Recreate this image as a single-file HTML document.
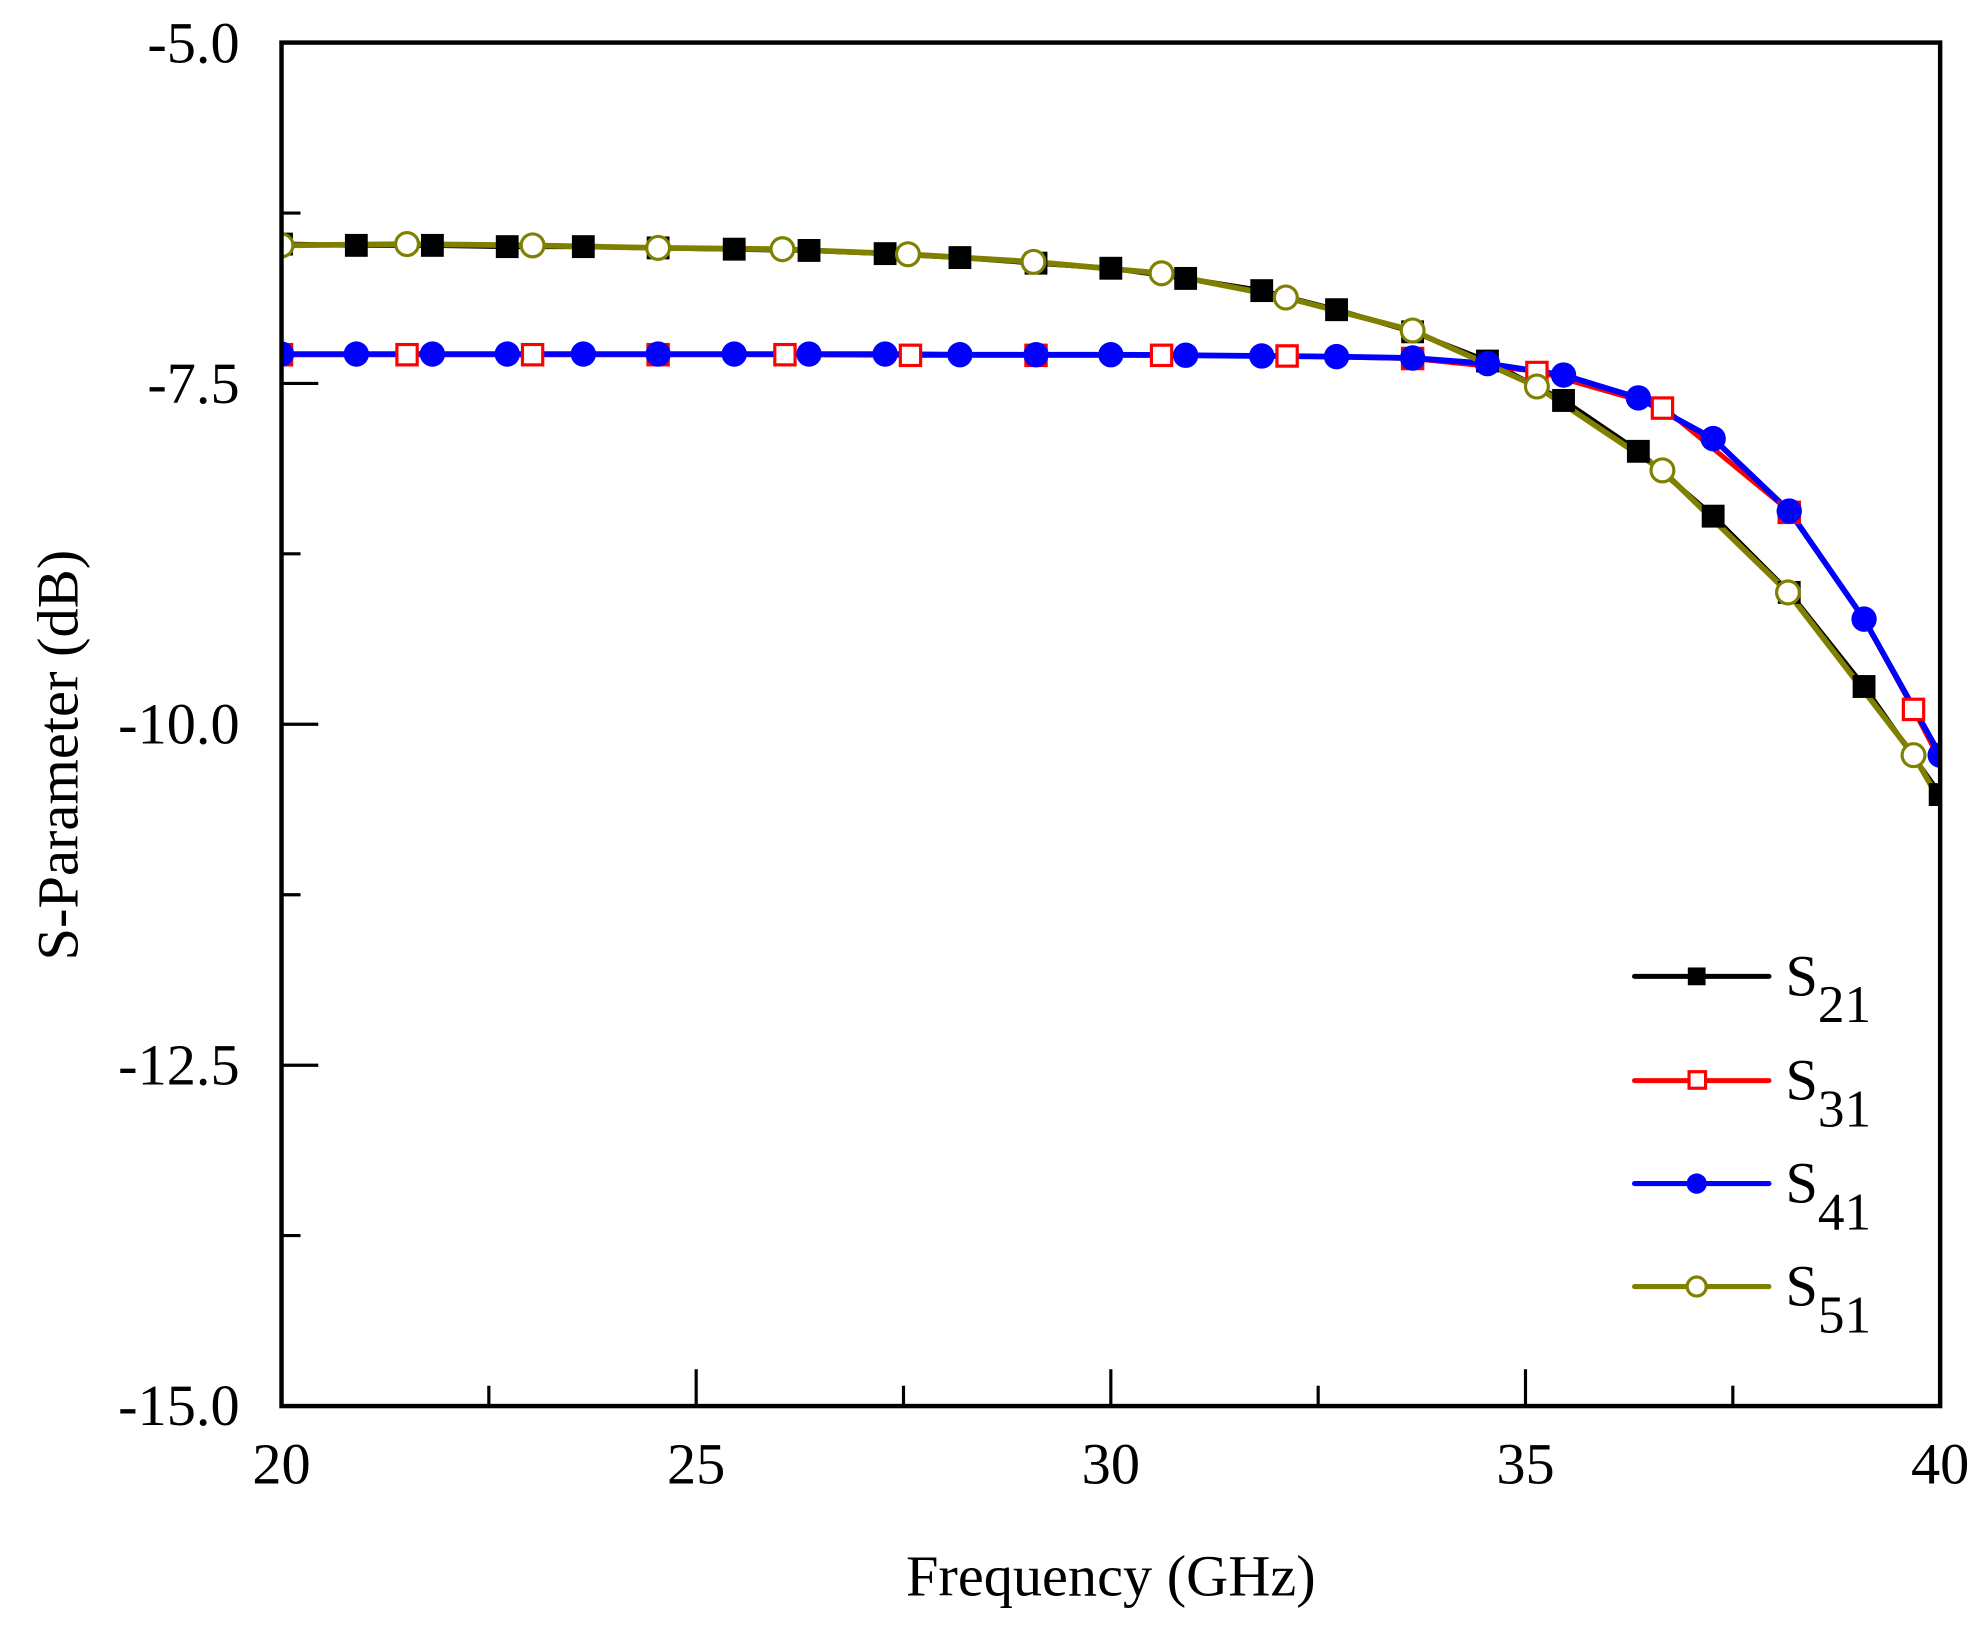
<!DOCTYPE html>
<html><head><meta charset="utf-8"><style>html,body{margin:0;padding:0;background:#fff}svg{display:block}</style></head>
<body>
<svg width="1982" height="1626" viewBox="0 0 1563 1279" preserveAspectRatio="none" xmlns="http://www.w3.org/2000/svg" font-family="'Liberation Serif', serif">
<defs><clipPath id="c"><rect x="222" y="33.5" width="1308" height="1072.5"/></clipPath></defs>
<g clip-path="url(#c)">
<polyline fill="none" stroke="#000" stroke-width="4" points="222,192 281,193 341,193 400,194 460,194 519,195 579,196 638,197 698,199.5 757,202.6 817,207 876,211 935,219 995,228.6 1054,243.6 1114,261 1173,284 1233,315 1292,355 1351,406 1411,466 1470,540 1530,625"/>
<polyline fill="none" stroke="#f00" stroke-width="4" stroke-linejoin="round" points="222,279 321,279 420,279 519,279 619,279 718,279.5 817,279.5 916,279.5 1015,280 1114,282 1212,292 1311,320 1411,402 1470,487 1509,558 1530,598"/>
<polyline fill="none" stroke="#00f" stroke-width="4.5" stroke-linejoin="round" points="222,278.5 281,278.5 341,278.5 400,278.5 460,278.5 519,278.5 579,278.5 638,278.5 698,278.5 757,279 817,279 876,279 935,279.4 995,280 1054,280.5 1114,281.6 1173,286 1233,295 1292,313 1351,345 1411,402 1470,487 1530,594"/>
<polyline fill="none" stroke="#808000" stroke-width="4.5" stroke-linejoin="round" points="222,193 321,192 420,193 519,195 617,196 716,200 815,206 916,215 1014,234 1114,260 1212,304 1311,370 1410,466 1509,594 1530,630"/>
<g fill="#000">
<rect x="213" y="183" width="18" height="18"/><rect x="272" y="184" width="18" height="18"/><rect x="332" y="184" width="18" height="18"/><rect x="391" y="185" width="18" height="18"/><rect x="451" y="185" width="18" height="18"/><rect x="510" y="186" width="18" height="18"/><rect x="570" y="187" width="18" height="18"/><rect x="629" y="188" width="18" height="18"/><rect x="689" y="190.5" width="18" height="18"/><rect x="748" y="193.6" width="18" height="18"/><rect x="808" y="198" width="18" height="18"/><rect x="867" y="202" width="18" height="18"/><rect x="926" y="210" width="18" height="18"/><rect x="986" y="219.6" width="18" height="18"/><rect x="1045" y="234.6" width="18" height="18"/><rect x="1105" y="252" width="18" height="18"/><rect x="1164" y="275" width="18" height="18"/><rect x="1224" y="306" width="18" height="18"/><rect x="1283" y="346" width="18" height="18"/><rect x="1342" y="397" width="18" height="18"/><rect x="1402" y="457" width="18" height="18"/><rect x="1461" y="531" width="18" height="18"/><rect x="1521" y="616" width="18" height="18"/>
</g>
<g fill="#fff" stroke="#f00" stroke-width="2.5">
<rect x="214" y="271" width="16" height="16"/><rect x="313" y="271" width="16" height="16"/><rect x="412" y="271" width="16" height="16"/><rect x="511" y="271" width="16" height="16"/><rect x="611" y="271" width="16" height="16"/><rect x="710" y="271.5" width="16" height="16"/><rect x="809" y="271.5" width="16" height="16"/><rect x="908" y="271.5" width="16" height="16"/><rect x="1007" y="272" width="16" height="16"/><rect x="1106" y="274" width="16" height="16"/><rect x="1204" y="285" width="16" height="16"/><rect x="1303" y="313" width="16" height="16"/><rect x="1403" y="395" width="16" height="16"/><rect x="1501" y="550" width="16" height="16"/>
</g>
<g fill="#00f">
<circle cx="222" cy="278.5" r="10"/><circle cx="281" cy="278.5" r="10"/><circle cx="341" cy="278.5" r="10"/><circle cx="400" cy="278.5" r="10"/><circle cx="460" cy="278.5" r="10"/><circle cx="519" cy="278.5" r="10"/><circle cx="579" cy="278.5" r="10"/><circle cx="638" cy="278.5" r="10"/><circle cx="698" cy="278.5" r="10"/><circle cx="757" cy="279" r="10"/><circle cx="817" cy="279" r="10"/><circle cx="876" cy="279" r="10"/><circle cx="935" cy="279.4" r="10"/><circle cx="995" cy="280" r="10"/><circle cx="1054" cy="280.5" r="10"/><circle cx="1114" cy="281.6" r="10"/><circle cx="1173" cy="286" r="10"/><circle cx="1233" cy="295" r="10"/><circle cx="1292" cy="313" r="10"/><circle cx="1351" cy="345" r="10"/><circle cx="1411" cy="402" r="10"/><circle cx="1470" cy="487" r="10"/><circle cx="1530" cy="594" r="10"/>
</g>
<g fill="#fff" stroke="#808000" stroke-width="2.5">
<circle cx="222" cy="193" r="9"/><circle cx="321" cy="192" r="9"/><circle cx="420" cy="193" r="9"/><circle cx="519" cy="195" r="9"/><circle cx="617" cy="196" r="9"/><circle cx="716" cy="200" r="9"/><circle cx="815" cy="206" r="9"/><circle cx="916" cy="215" r="9"/><circle cx="1014" cy="234" r="9"/><circle cx="1114" cy="260" r="9"/><circle cx="1212" cy="304" r="9"/><circle cx="1311" cy="370" r="9"/><circle cx="1410" cy="466" r="9"/><circle cx="1509" cy="594" r="9"/>
</g>
</g>
<rect x="222" y="33.5" width="1308" height="1072.5" fill="none" stroke="#000" stroke-width="3.5"/>
<g stroke="#000" stroke-width="2.5">
<line x1="222" y1="167.6" x2="237" y2="167.6"/><line x1="222" y1="301.6" x2="251" y2="301.6"/><line x1="222" y1="435.6" x2="237" y2="435.6"/><line x1="222" y1="569.7" x2="251" y2="569.7"/><line x1="222" y1="703.8" x2="237" y2="703.8"/><line x1="222" y1="837.9" x2="251" y2="837.9"/><line x1="222" y1="971.9" x2="237" y2="971.9"/>
<line x1="385.5" y1="1106" x2="385.5" y2="1090"/><line x1="549" y1="1106" x2="549" y2="1077"/><line x1="712.5" y1="1106" x2="712.5" y2="1090"/><line x1="876" y1="1106" x2="876" y2="1077"/><line x1="1039.5" y1="1106" x2="1039.5" y2="1090"/><line x1="1203" y1="1106" x2="1203" y2="1077"/><line x1="1366.5" y1="1106" x2="1366.5" y2="1090"/>
</g>
<g font-size="46" text-anchor="end">
<text x="189" y="49">-5.0</text><text x="189" y="317">-7.5</text><text x="189" y="585">-10.0</text><text x="189" y="853">-12.5</text><text x="189" y="1121">-15.0</text>
</g>
<g font-size="46" text-anchor="middle">
<text x="222" y="1167">20</text><text x="549" y="1167">25</text><text x="876" y="1167">30</text><text x="1203" y="1167">35</text><text x="1530" y="1167">40</text>
<text x="876" y="1255">Frequency (GHz)</text>
<text transform="translate(61,594) rotate(-90)">S-Parameter (dB)</text>
</g>
<g stroke-width="4" stroke-linecap="round">
<line x1="1289" y1="768" x2="1395" y2="768" stroke="#000"/><rect x="1331" y="761" width="14" height="14" fill="#000" stroke="none"/>
<line x1="1289" y1="850" x2="1395" y2="850" stroke="#f00"/><rect x="1332" y="843" width="13" height="13" fill="#fff" stroke="#f00" stroke-width="2.5"/>
<line x1="1289" y1="931" x2="1395" y2="931" stroke="#00f"/><circle cx="1338" cy="931" r="8" fill="#00f" stroke="none"/>
<line x1="1289" y1="1012" x2="1395" y2="1012" stroke="#808000"/><circle cx="1338" cy="1012" r="7.5" fill="#fff" stroke="#808000" stroke-width="2.5"/>
</g>
<g font-size="46">
<text x="1408" y="783">S<tspan font-size="42" dy="21">21</tspan></text>
<text x="1408" y="865">S<tspan font-size="42" dy="21">31</tspan></text>
<text x="1408" y="946">S<tspan font-size="42" dy="21">41</tspan></text>
<text x="1408" y="1027">S<tspan font-size="42" dy="21">51</tspan></text>
</g>
</svg>
</body></html>
